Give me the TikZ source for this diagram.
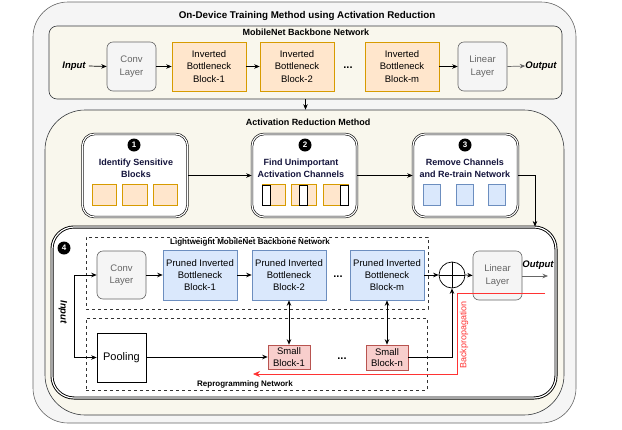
\documentclass[tikz,border=0pt]{standalone}
\usepackage{fontspec}
\setmainfont{Liberation Sans}
\usetikzlibrary{arrows.meta,calc}
\definecolor{orF}{HTML}{FFE6CC}\definecolor{orD}{HTML}{D79B00}
\definecolor{blF}{HTML}{DAE8FC}\definecolor{blD}{HTML}{6C8EBF}
\definecolor{rdF}{HTML}{F8CECC}\definecolor{rdD}{HTML}{B85450}
\definecolor{gyF}{HTML}{F5F5F5}\definecolor{gyD}{HTML}{666666}\definecolor{gyT}{HTML}{666666}
\definecolor{bgF}{HTML}{F9F7ED}\definecolor{bgD}{HTML}{36393D}
\definecolor{navy}{HTML}{14143C}
\definecolor{bpred}{HTML}{FF3333}
\newcommand\myfs{\fontsize{9.5}{12.5}\selectfont}
\newcommand\myfsb{\fontsize{9.5}{12}\selectfont}
\begin{document}
\begin{tikzpicture}[x=1pt,y=-1pt,
  blk/.style={draw, line width=0.6pt, align=center, inner sep=0pt, font=\myfs},
  graybox/.style={blk, rounded corners=6pt, fill=gyF, draw=gyD, text=gyT, minimum width=49pt, minimum height=49pt},
  ibbox/.style={blk, fill=orF, draw=orD, minimum width=74pt, minimum height=49pt},
  pbox/.style={blk, fill=blF, draw=blD, minimum width=74pt, minimum height=50pt, font=\myfsb},
  sbox/.style={blk, fill=rdF, draw=rdD, minimum width=42pt, minimum height=24pt, font=\fontsize{9.5}{11.5}\selectfont},
  stepbox/.style={draw=black, double=white, double distance=1.2pt, line width=0.6pt, fill=white, rounded corners=12pt, minimum width=105pt, minimum height=83pt, inner sep=0pt},
  numc/.style={circle, fill=black, text=white, inner sep=0pt, minimum size=13pt, font=\fontsize{8}{8}\selectfont\bfseries},
  steptxt/.style={align=center, text=navy, font=\fontsize{9}{11.5}\selectfont\bfseries, inner sep=0pt},
  osq/.style={draw=orD, fill=orF, line width=0.6pt, inner sep=0pt, minimum height=21pt},
  bsq/.style={draw=blD, fill=blF, line width=0.6pt, inner sep=0pt, minimum width=17pt, minimum height=21pt},
  wsq/.style={draw=black, fill=white, line width=0.6pt, inner sep=0pt, minimum width=8pt, minimum height=20pt},
  dashbox/.style={draw=black!80, dashed, line width=0.5pt, inner sep=0pt},
  ttl/.style={font=\fontsize{9}{9}\selectfont\bfseries, inner sep=0pt},
  io/.style={font=\fontsize{9.5}{9.5}\selectfont\bfseries\itshape, inner sep=0pt},
  dots/.style={font=\fontsize{11}{11}\selectfont\bfseries, inner sep=0pt},
  arr/.style={-{Stealth[length=5.5pt,width=4.5pt]}, line width=0.7pt},
  darr/.style={{Stealth[length=5.5pt,width=4.5pt]}-{Stealth[length=5.5pt,width=4.5pt]}, line width=0.7pt}
]
\useasboundingbox (0,0) rectangle (622,429);
% containers
\node[draw=gyD, fill=gyF, line width=0.6pt, rounded corners=35pt, minimum width=543pt, minimum height=421pt, inner sep=0pt] (outer) at (304.5,212.5) {};
\node[ttl, font=\fontsize{9.8}{9.8}\selectfont\bfseries] (title) at (307,16) {On-Device Training Method using Activation Reduction};
\node[draw=bgD, fill=bgF, line width=0.6pt, rounded corners=8pt, minimum width=513pt, minimum height=73pt, inner sep=0pt] (mb) at (305.5,62.5) {};
\node[ttl] (mbt) at (306,32) {MobileNet Backbone Network};
\node[draw=bgD, fill=bgF, line width=0.6pt, rounded corners=40pt, minimum width=519pt, minimum height=305pt, inner sep=0pt] (ar) at (304.5,262.5) {};
\node[ttl] (art) at (308,122) {Activation Reduction Method};

% top row
\node[io] (in1) at (74,66) {Input};
\node[graybox] (conv1) at (131.5,66.5) {Conv\\Layer};
\node[ibbox] (ib1) at (209,66.5) {Inverted\\Bottleneck\\Block-1};
\node[ibbox] (ib2) at (297,66.5) {Inverted\\Bottleneck\\Block-2};
\node[dots] (d1) at (348,68) {...};
\node[ibbox] (ibm) at (402,66.5) {Inverted\\Bottleneck\\Block-m};
\node[graybox] (lin1) at (482.5,66.5) {Linear\\Layer};
\node[io] (out1) at (541,66) {Output};
\draw[arr] (in1.east) ++(3,0) -- (conv1.west);
\draw[arr] (conv1) -- (ib1);
\draw[arr] (ib1) -- (ib2);
\draw[arr] (ibm) -- (lin1);
\draw[arr, draw=gyD] (lin1.east) -- (out1.west);
\draw[arr] (mb.south) -- (mb.south |- ar.north);

% step boxes
\node[stepbox] (s1) at (135,175.5) {};
\node[stepbox] (s2) at (304.5,175.5) {};
\node[stepbox] (s3) at (465.5,175.5) {};
\node[numc] (n1) at (134,145) {1};
\node[numc] (n2) at (305,145) {2};
\node[numc] (n3) at (465,145) {3};
\node[steptxt] (t1) at (136,168.5) {Identify Sensitive\\Blocks};
\node[steptxt] (t2) at (301,168.5) {Find Unimportant\\Activation Channels};
\node[steptxt] (t3) at (465,168.5) {Remove Channels\\and Re-train Network};
% squares in step 1
\node[osq, minimum width=24pt] (q11) at (104,194.5) {};
\node[osq, minimum width=25pt] (q12) at (134.5,194.5) {};
\node[osq, minimum width=24pt] (q13) at (165,194.5) {};
% squares in step 2
\node[osq, minimum width=23pt] (q21) at (273.5,194.5) {};
\node[wsq] (w21) at (266,195) {};
\node[osq, minimum width=25pt] (q22) at (303.5,194.5) {};
\node[wsq] (w22) at (303.5,195) {};
\node[osq, minimum width=25pt] (q23) at (335.5,194.5) {};
\node[wsq] (w23) at (344,195) {};
% squares in step 3
\node[bsq] (q31) at (431.5,194.5) {};
\node[bsq] (q32) at (464.5,194.5) {};
\node[bsq] (q33) at (497,194.5) {};
\draw[arr] (s1.east) -- (s2.west);
\draw[arr] (s2.east) -- (s3.west);

% step 4
\node[draw=black, double=white, double distance=1.2pt, line width=0.9pt, fill=white, rounded corners=22pt, minimum width=504pt, minimum height=171pt, inner sep=0pt] (s4) at (304,312.5) {};
\coordinate (k3) at (535,175.5);
\draw[arr] (s3.east) -- (k3) -- (k3 |- s4.north);
\node[numc] (n4) at (64,248) {4};
\node[dashbox, minimum width=342pt, minimum height=72pt] (lw) at (257,273) {};
\node[ttl, font=\fontsize{8}{8}\selectfont\bfseries] (lwt) at (250,242) {Lightweight MobileNet Backbone Network};
\node[dashbox, minimum width=341pt, minimum height=72pt] (rp) at (256.5,354) {};
\node[ttl, font=\fontsize{8}{8}\selectfont\bfseries] (rpt) at (245,384) {Reprogramming Network};

\node[graybox, minimum height=48pt] (conv2) at (121.5,275) {Conv\\Layer};
\node[pbox] (p1) at (200,275) {Pruned Inverted\\Bottleneck\\Block-1};
\node[pbox] (p2) at (289,275) {Pruned Inverted\\Bottleneck\\Block-2};
\node[dots] (d2) at (338,277) {...};
\node[pbox] (pm) at (387,275) {Pruned Inverted\\Bottleneck\\Block-m};
\node[circle, draw=black, line width=0.7pt, fill=white, minimum size=26pt, inner sep=0pt] (plus) at (452,275) {};
\draw[line width=0.7pt] (plus.north) -- (plus.south) (plus.west) -- (plus.east);
\node[graybox] (lin2) at (497.5,275.5) {Linear\\Layer};
\node[io] (out2) at (538,265) {Output};
\coordinate (o2) at (548,276);

\node[blk, fill=white, draw=black, minimum width=49pt, minimum height=49pt, font=\fontsize{11}{11}\selectfont] (pool) at (121.5,357.5) {Pooling};
\node[sbox] (sb1) at (289,357) {Small\\Block-1};
\node[dots] (d3) at (342,359) {...};
\node[sbox, minimum height=25pt] (sbn) at (387,357.5) {Small\\Block-n};

\node[io, rotate=-90] (in2) at (63,312) {Input};
\coordinate (ic) at (74,312);
\draw[arr] (ic) |- (conv2.west);
\draw[arr] (ic) |- (pool.west);
\draw[arr] (conv2) -- (p1);
\draw[arr] (p1) -- (p2);
\draw[arr] (pm.east) -- (plus.west);
\draw[arr] (plus.east) -- (lin2.west);
\draw[arr, draw=gyD] (lin2.east |- o2) -- (o2);
\draw[darr] (p2.south) -- (sb1.north);
\draw[darr] (pm.south) -- (sbn.north);
\draw[arr] (pool.east |- sb1) -- (sb1.west);
\coordinate (kn) at (452,357.5);
\draw[arr] (sbn.east) -- (kn) -- (plus.south);

% backpropagation
\coordinate (bp1) at (545,293);
\coordinate (bp2) at (457,293);
\coordinate (bp3) at (457,374);
\coordinate (bp4) at (253,374);
\draw[bpred, line width=0.7pt, -{Stealth[length=7pt,width=6pt]}] (bp1) -- (bp2) -- (bp3) -- (bp4);
\node[text=bpred, rotate=90, inner sep=0pt, font=\fontsize{9}{9}\selectfont] (bpt) at (464,335) {Backpropagation};
\end{tikzpicture}
\end{document}
